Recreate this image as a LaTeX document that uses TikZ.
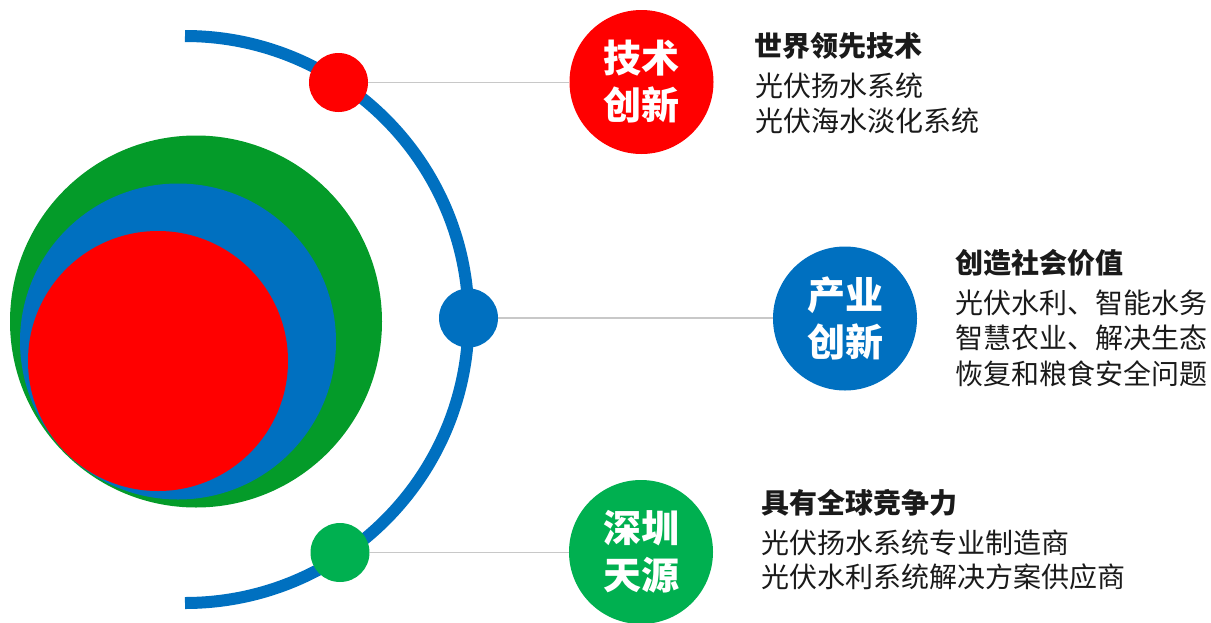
\documentclass[tikz,border=0pt]{standalone}
\usepackage{fontspec}
\setmainfont{Noto Sans CJK SC}
\newfontfamily\cjk{Noto Sans CJK SC}
\definecolor{cred}{HTML}{FF0000}
\definecolor{cblue}{HTML}{0070C0}
\definecolor{cdgreen}{HTML}{049B29}
\definecolor{cgreen}{HTML}{00B050}
\definecolor{cgray}{HTML}{C8C8C8}
\definecolor{ctext}{HTML}{1A1A1A}
\begin{document}
\begin{tikzpicture}[x=1pt,y=-1pt,
  bigdisc/.style={circle,inner sep=0pt,minimum size=#1},
  dot/.style={circle,fill=#1,inner sep=0pt,minimum size=59pt},
  badge/.style={circle,fill=#1,inner sep=0pt,minimum size=144pt,text=white,
     font=\cjk\bfseries\fontsize{38}{47}\selectfont,align=center},
  head/.style={anchor=west,inner sep=0pt,text=ctext,font=\cjk\bfseries\fontsize{28}{34}\selectfont},
  body/.style={anchor=west,inner sep=0pt,text=ctext,font=\cjk\fontsize{28}{34}\selectfont},
  link/.style={draw=cgray,line width=1.5pt}]
\useasboundingbox (0,0) rectangle (1211,622);
% nested circles
\node[bigdisc=372pt,fill=cdgreen] (g1) at (196,321.5) {};
\node[bigdisc=316pt,fill=cblue] (g2) at (178,341.5) {};
\node[bigdisc=260pt,fill=cred] (g3) at (158,361) {};
% orbit arc
\coordinate (oc) at (185,319.5);
\draw[cblue,line width=12pt] (oc) ++(0,-283.5) arc[start angle=-90,end angle=90,radius=283.5];
% badges
\node[badge=cred] (b1) at (641.5,82) {技术\\创新};
\node[badge=cblue] (b2) at (845,318.5) {产业\\创新};
\node[badge=cgreen] (b3) at (641,552) {深圳\\天源};
% dots on the arc
\node[dot=cred] (d1) at (338.5,82.5) {};
\node[dot=cblue] (d2) at (468.5,318) {};
\node[dot=cgreen] (d3) at (340,552.5) {};
% links
\draw[link] (d1.east) -- (d1.east -| b1.west);
\draw[link] (d2.east) -- (d2.east -| b2.west);
\draw[link] (d3.east) -- (d3.east -| b3.west);
% texts
\node[head] (h1) at (754,46) {世界领先技术};
\node[body] (t11) at (755,86) {光伏扬水系统};
\node[body] (t12) at (755,121) {光伏海水淡化系统};
\node[head] (h2) at (955,263) {创造社会价值};
\node[body] (t21) at (955,303) {光伏水利、智能水务};
\node[body] (t22) at (955,338) {智慧农业、解决生态};
\node[body] (t23) at (955,374) {恢复和粮食安全问题};
\node[head] (h3) at (761,503) {具有全球竞争力};
\node[body] (t31) at (761,543) {光伏扬水系统专业制造商};
\node[body] (t32) at (761,577) {光伏水利系统解决方案供应商};
\end{tikzpicture}
\end{document}
